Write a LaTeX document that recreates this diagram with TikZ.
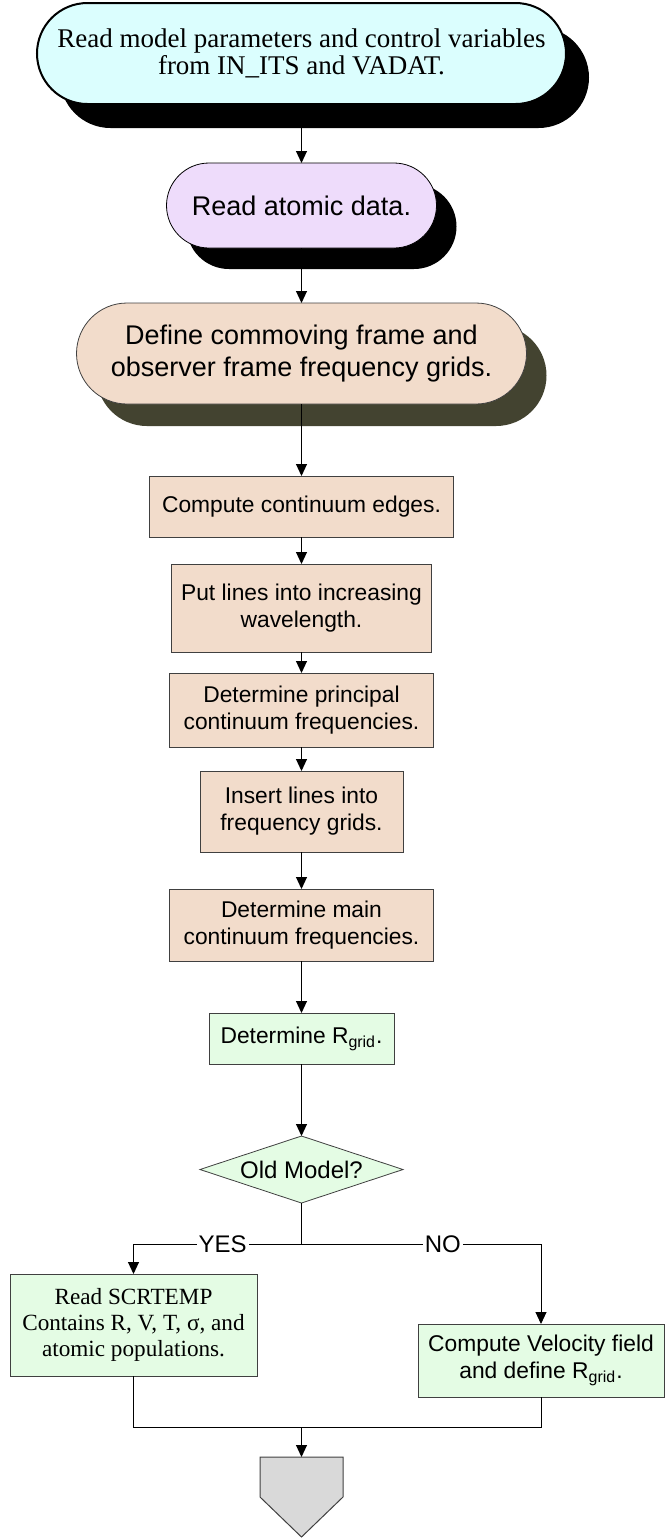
\documentclass[tikz,border=0pt]{standalone}
\usepackage{fontspec}
\setmainfont{Liberation Serif}
\setsansfont{Liberation Sans}
\usetikzlibrary{arrows.meta,positioning,shapes.geometric,shadows}
\definecolor{inputcyan}{HTML}{DBFEFE}
\definecolor{atomlilac}{HTML}{EEDCFB}
\definecolor{gridpeach}{HTML}{F2DCCB}
\definecolor{gridshade}{HTML}{434330}
\definecolor{modelmint}{HTML}{E4FCE4}
\definecolor{boxgray}{HTML}{404040}
\definecolor{exitgray}{HTML}{D9D9D9}

\begin{document}
\begin{tikzpicture}[
  term/.style={draw, rectangle, align=center, inner sep=0pt, outer sep=0pt},
  block/.style={draw=boxgray, rectangle, align=center, inner sep=0pt, outer sep=0pt,
                fill=gridpeach, font=\sffamily\fontsize{11.4}{13.5}\selectfont},
  arr/.style={-{Triangle[length=6pt,width=5.5pt]}, line width=0.5pt},
  link/.style={line width=0.5pt},
  lbl/.style={fill=white, inner sep=1pt, font=\sffamily\fontsize{12}{14}\selectfont}
]
  \useasboundingbox (0,0) rectangle (334pt,-769.5pt);

  %% Terminals
  \node[term, line width=1pt, fill=inputcyan, rounded corners=25.25pt,
        minimum width=264.5pt, minimum height=50.5pt,
        font=\fontsize{13.5}{13.4}\selectfont,
        drop shadow={shadow xshift=11.5pt, shadow yshift=-12pt, fill=black, opacity=1}]
    (params) at (150.75pt,-26.75pt)
    {Read model parameters and control variables\\from IN\_ITS and VADAT.};

  \node[term, fill=atomlilac, rounded corners=21.25pt,
        minimum width=135pt, minimum height=42.5pt,
        font=\sffamily\fontsize{13.5}{16}\selectfont,
        drop shadow={shadow xshift=10pt, shadow yshift=-10.5pt, fill=black, opacity=1},
        below=29.5pt of params] (atomic)
    {Read atomic data.};

  \node[term, draw=boxgray, fill=gridpeach, rounded corners=25.25pt,
        minimum width=225pt, minimum height=50.5pt,
        font=\sffamily\fontsize{13.5}{16}\selectfont,
        drop shadow={shadow xshift=10pt, shadow yshift=-11pt, fill=gridshade, opacity=1},
        below=27.5pt of atomic] (grids)
    {Define commoving frame and\\observer frame frequency grids.};

  %% Grid steps
  \node[block, minimum width=152pt, minimum height=30.5pt, below=36pt of grids] (edges)
    {Compute continuum edges.};
  \node[block, minimum width=130pt, minimum height=44pt, below=13.5pt of edges] (sortlines)
    {Put lines into increasing\\wavelength.};
  \node[block, minimum width=132pt, minimum height=37pt, below=10.5pt of sortlines] (principal)
    {Determine principal\\continuum frequencies.};
  \node[block, minimum width=101.5pt, minimum height=40.5pt, below=12pt of principal] (insert)
    {Insert lines into\\frequency grids.};
  \node[block, minimum width=132pt, minimum height=36pt, below=18.5pt of insert] (mainfreq)
    {Determine main\\continuum frequencies.};
  \node[block, fill=modelmint, minimum width=92.5pt, minimum height=25.5pt,
        below=26pt of mainfreq] (rgrid)
    {Determine R\textsubscript{grid}.};

  %% Decision
  \node[diamond, aspect=3, draw=boxgray, fill=modelmint, inner sep=0pt, outer sep=0pt,
        minimum width=101.5pt, minimum height=33.5pt,
        font=\sffamily\fontsize{12}{14}\selectfont, below=36pt of rgrid] (oldmodel)
    {Old Model?};

  \coordinate[below=20.5pt of oldmodel] (split);
  \coordinate[left=84pt of split] (yesturn);
  \coordinate[right=119.75pt of split] (noturn);

  \node[block, fill=modelmint, minimum width=123.5pt, minimum height=51pt,
        font=\fontsize{11.6}{13}\selectfont, below=15pt of yesturn] (scrtemp)
    {Read SCRTEMP\\Contains R, V, T, σ, and\\atomic populations.};
  \node[block, fill=modelmint, minimum width=123pt, minimum height=36.5pt,
        below=40pt of noturn] (velocity)
    {Compute Velocity field\\and define R\textsubscript{grid}.};

  \coordinate[below=91.5pt of split] (merge);
  \node[minimum width=41.5pt, minimum height=40pt, inner sep=0pt, outer sep=0pt,
        below=15pt of merge] (offpage) {};
  \draw[draw=boxgray, fill=exitgray, line width=0.5pt]
    (offpage.north west) -- (offpage.north east) -- (offpage.east)
    -- (offpage.south) -- (offpage.west) -- cycle;

  %% Arrows
  \draw[arr] (params) -- (atomic);
  \draw[arr] (atomic) -- (grids);
  \draw[arr] (grids) -- (edges);
  \draw[arr] (edges) -- (sortlines);
  \draw[arr] (sortlines) -- (principal);
  \draw[arr] (principal) -- (insert);
  \draw[arr] (insert) -- (mainfreq);
  \draw[arr] (mainfreq) -- (rgrid);
  \draw[arr] (rgrid) -- (oldmodel);
  \draw[link] (oldmodel.south) -- (split);
  \draw[arr] (split) -- node[lbl, pos=0.47] {YES} (yesturn) -- (scrtemp.north);
  \draw[arr] (split) -- node[lbl, pos=0.59] {NO} (noturn) -- (velocity.north);
  \draw[link] (scrtemp.south) |- (merge) -| (velocity.south);
  \draw[arr] (merge) -- (offpage);

\end{tikzpicture}
\end{document}
